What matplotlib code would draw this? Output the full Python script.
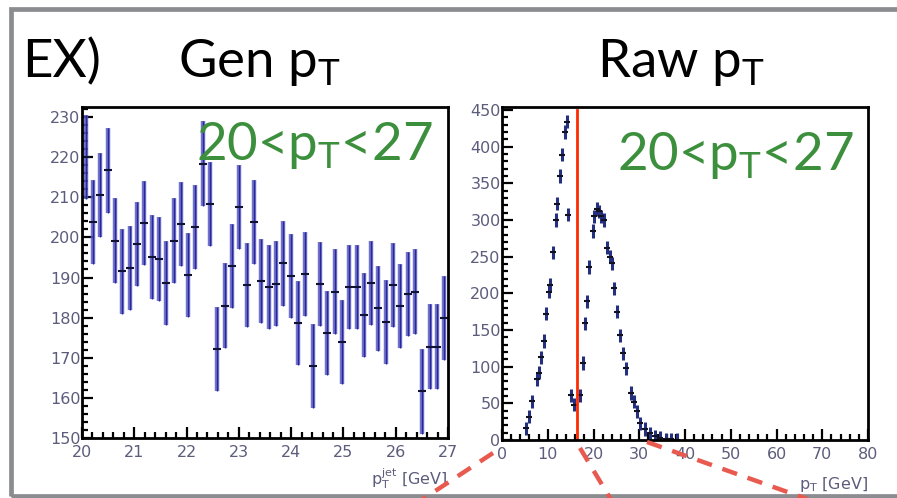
import numpy as np
import matplotlib
matplotlib.use('Agg')
import matplotlib.pyplot as plt
from matplotlib.patches import Rectangle
from matplotlib.lines import Line2D
from matplotlib.ticker import MultipleLocator

plt.rcParams['mathtext.default'] = 'regular'

# Gen pT panel (bins 20..27 GeV)
genX = np.linspace(20.07, 26.93, 50)
genY = [220, 203.9, 210.5, 216.7, 199.2, 191.5, 192.4, 198.3, 203.5, 195.2,
        194.6, 188.7, 199.2, 203.3, 190.6, 202.6, 218.4, 208.4, 172.2, 183.0,
        192.9, 207.6, 188.1, 203.9, 189.2, 187.7, 188.5, 193.5, 190.4, 178.6,
        190.8, 168.0, 188.3, 176.1, 186.5, 174.0, 187.7, 187.7, 180.7, 188.7,
        182.3, 179.0, 188.1, 182.9, 185.8, 186.5, 161.6, 172.8, 172.8, 180.0]
genErr = 10.5

# Raw pT panel
rawX = [5.3, 5.9, 6.5, 7.6, 8.1, 8.5, 9.1, 9.6, 10.2, 10.5, 11.2, 11.8, 12.1,
        12.6, 13.1, 13.8, 14.2, 14.4, 15.0, 15.8, 17.1, 17.8, 18.2, 18.6, 19.1,
        19.8, 20.2, 20.7, 21.2, 21.7, 22.2, 22.9, 23.6, 24.0, 24.4, 25.1, 25.7,
        26.4, 27.0, 28.1, 28.8, 29.4, 30.2, 31.3, 32.4, 33.5, 34.6, 35.8, 37.0, 38.2]
rawY = [16, 32, 53, 83, 92, 113, 135, 172, 202, 212, 256, 300, 322,
        360, 389, 420, 434, 307, 61, 48, 61, 105, 159, 189, 236,
        285, 305, 315, 312, 305, 300, 262, 250, 241, 207, 175, 143,
        118, 98, 64, 52, 39, 23, 15, 9, 5, 3, 1, 1, 0]
rawErr = 9
cutX = 16.5

titleFont = 'Lato'
tickFont = 'DejaVu Sans'
tickColor = '#5c5c7c'
green = '#3c8f3c'

fig = plt.figure(figsize=(8.97, 4.98), dpi=100)
W, H = 897.0, 498.0

ax1 = fig.add_axes([82/W, 1-438/H, (448-82)/W, (438-107)/H])
ax2 = fig.add_axes([502/W, 1-440/H, (868-502)/W, (440-107)/H])

# left: gen pT
ax1.errorbar(genX, genY, yerr=genErr, fmt='none', ecolor='#5a5ac4', elinewidth=3.2, alpha=0.85)
ax1.errorbar(genX, genY, yerr=genErr, fmt='none', ecolor='#28289a', elinewidth=1.0)
ax1.plot(genX, genY, '_', color='#111133', ms=6, mew=1.5)
ax1.set_xlim(20, 27)
ax1.set_ylim(150, 232.5)
ax1.xaxis.set_major_locator(MultipleLocator(1))
ax1.xaxis.set_minor_locator(MultipleLocator(0.2))
ax1.yaxis.set_major_locator(MultipleLocator(10))
ax1.yaxis.set_minor_locator(MultipleLocator(2))

# right: raw pT
ax2.errorbar(rawX, rawY, yerr=rawErr, fmt='none', ecolor='#24307e', elinewidth=2.2)
ax2.plot(rawX, rawY, '_', color='#111122', ms=5, mew=1.5)
ax2.plot([cutX, cutX], [0, 450], color='#ff2a00', lw=2.0)
ax2.set_xlim(0, 80)
ax2.set_ylim(0, 454)
ax2.xaxis.set_major_locator(MultipleLocator(10))
ax2.xaxis.set_minor_locator(MultipleLocator(2))
ax2.yaxis.set_major_locator(MultipleLocator(50))
ax2.yaxis.set_minor_locator(MultipleLocator(10))

for ax in [ax1, ax2]:
    for s in ax.spines.values():
        s.set_linewidth(2.0)
    ax.tick_params(which='both', direction='in', width=1.6, colors='black',
                   labelcolor=tickColor, labelsize=11.5, top=False, right=False)
    ax.tick_params(which='major', length=8)
    ax.tick_params(which='minor', length=4)
    ax.tick_params(axis='y', pad=1)
    ax.tick_params(axis='x', pad=5)
    for lab in ax.get_xticklabels() + ax.get_yticklabels():
        lab.set_fontfamily(tickFont)

ax1.text(1.0, -0.085, 'p$_T^{jet}$ [GeV]', transform=ax1.transAxes, ha='right', va='top',
         fontsize=11.5, color=tickColor, family=tickFont)
ax2.text(1.0, -0.105, 'p$_T$ [GeV]', transform=ax2.transAxes, ha='right', va='top',
         fontsize=11.5, color=tickColor, family=tickFont)

# green range labels
fig.text(196/W, 1-160/H, '20<p$_T$<27', color=green, fontsize=38, family=titleFont, va='baseline')
fig.text(617/W, 1-170/H, '20<p$_T$<27', color=green, fontsize=38, family=titleFont, va='baseline')

# titles
fig.text(22/W, 1-77/H, 'EX)', fontsize=38, family=['Liberation Sans Narrow', titleFont], va='baseline')
fig.text(178/W, 1-77/H, 'Gen p$_T$', fontsize=38, family=titleFont, va='baseline')
fig.text(597/W, 1-77/H, 'Raw p$_T$', fontsize=38, family=titleFont, va='baseline')

# callout dashes
salmon = '#e85a4f'
for (x0, y0, x1, y1) in [(493, 453, 420, 501), (580, 448, 613, 503), (647, 442, 810, 500)]:
    fig.add_artist(Line2D([x0/W, x1/W], [1-y0/H, 1-y1/H], color=salmon, lw=3.2,
                          linestyle=(0, (3.5, 2.5)), transform=fig.transFigure))

# slide frame
fig.add_artist(Rectangle((10.5/W, 1-495.5/H), 900/W, (495.5-9)/H, fill=False,
                         edgecolor='#8a8c90', lw=3.4, transform=fig.transFigure))

fig.savefig('out.png', dpi=100)
